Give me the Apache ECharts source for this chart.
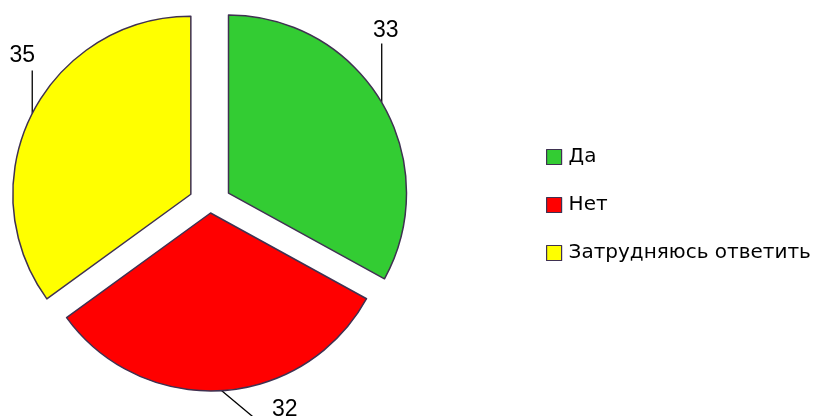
<!DOCTYPE html>
<html><head><meta charset="utf-8">
<script src="https://cdn.jsdelivr.net/npm/echarts@6/dist/echarts.min.js"></script>
<style>html,body{margin:0;padding:0;background:#fff}#c{width:819px;height:416px}</style>
</head><body><div id="c"></div>
<script>
const categories = ['Да', 'Нет', 'Затрудняюсь ответить'];
const values = [33, 32, 35];
const colors = ['#33cc33', '#ff0000', '#ffff00'];

// explosion distance of each slice (px) and label placement relative to its arc anchor
const explode = [21.5, 9, 21.5];
const labelShift = [[4, -72, 0, -59], [63, 19, 31, 26], [-10, -58, 0, -43]];

const pieCenter = [210, 204];
const pieRadius = 178;

function seriesFor(offset) {
  return {
    type: 'pie',
    center: pieCenter,
    radius: pieRadius,
    startAngle: 90,
    clockwise: true,
    selectedMode: 'multiple',
    selectedOffset: offset,
    silent: true,
    emphasis: {disabled: true},
    label: {show: false},
    labelLine: {show: false},
    data: categories.map((n, i) => {
      const on = explode[i] === offset;
      return {
        name: n, value: values[i], selected: true,
        itemStyle: on ? {color: colors[i], borderColor: '#3f3151', borderWidth: 1.5}
                      : {color: 'rgba(0,0,0,0)', borderWidth: 0}
      };
    })
  };
}

const labelSeries = {
  type: 'pie',
  center: pieCenter,
  radius: pieRadius,
  startAngle: 90,
  clockwise: true,
  silent: true,
  emphasis: {disabled: true},
  itemStyle: {color: 'rgba(0,0,0,0)', borderWidth: 0},
  label: {show: true, formatter: '{c}', fontFamily: 'Liberation Sans', fontSize: 23, color: '#000',
          overflow: 'none', width: 60},
  labelLine: {show: true, length: 10, length2: 5, lineStyle: {color: '#000', width: 1.3}},
  labelLayout: function (p) {
    const pts = p.labelLinePoints;
    if (!pts) return {};
    const a0 = pts[0];
    const vx = a0[0] - pieCenter[0], vy = a0[1] - pieCenter[1];
    const len = Math.sqrt(vx * vx + vy * vy) || 1;
    const e = explode[p.dataIndex];
    const a = [a0[0] + vx / len * e, a0[1] + vy / len * e];
    const s = labelShift[p.dataIndex];
    return {
      x: a[0] + s[0], y: a[1] + s[1], align: 'center', verticalAlign: 'middle',
      labelLinePoints: [a, [a[0] + s[2], a[1] + s[3]], [a[0] + s[2], a[1] + s[3]]]
    };
  },
  data: categories.map((n, i) => ({name: n, value: values[i]}))
};

const chart = echarts.init(document.getElementById('c'), null, {renderer: 'canvas'});
chart.setOption({
  animation: false,
  legend: {
    orient: 'vertical', left: 541, top: 142, itemGap: 28,
    itemWidth: 15, itemHeight: 15, icon: 'rect',
    textStyle: {fontFamily: 'DejaVu Sans', fontSize: 20, color: '#000', padding: [0, 0, 0, 2]},
    selectedMode: false,
    data: categories.map((n, i) => ({
      name: n, itemStyle: {color: colors[i], borderColor: '#3f3151', borderWidth: 1.2}
    }))
  },
  series: [seriesFor(explode[0]), seriesFor(explode[1]), labelSeries]
});
</script></body></html>
